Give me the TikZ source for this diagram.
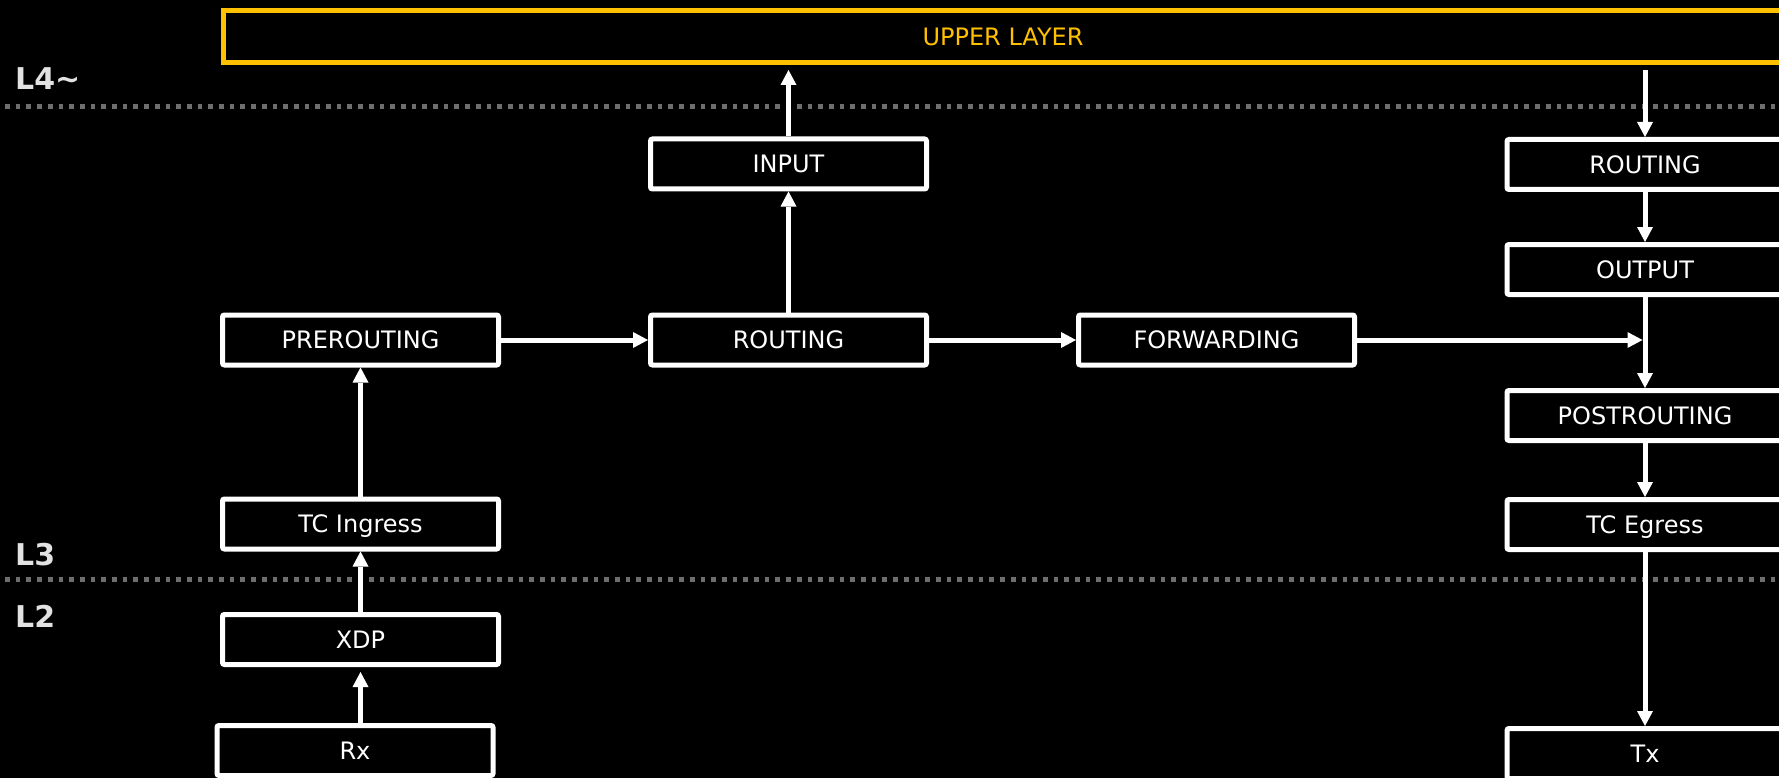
\documentclass[tikz,border=0pt]{standalone}
\usepackage{fontspec}
\setmainfont{DejaVu Sans}
\usetikzlibrary{arrows.meta}
\definecolor{gold}{HTML}{FFC000}
\definecolor{layertext}{HTML}{E2E2E2}
\definecolor{dashgray}{HTML}{6E6E6E}
\begin{document}
\begin{tikzpicture}[x=1pt,y=-1pt,
  stagebox/.style={draw=white, line width=5pt, rounded corners=2pt, fill=black,
    minimum width=276pt, minimum height=50pt, inner sep=0pt, outer sep=2.5pt,
    text=white, font=\fontsize{24pt}{28pt}\selectfont,
    text height=17.5pt, text depth=0pt},
  upperbox/.style={draw=gold, line width=5pt, fill=black,
    minimum width=1560pt, minimum height=52pt, inner sep=0pt, outer sep=2.5pt,
    text=gold, font=\fontsize{24pt}{28pt}\selectfont,
    text height=17.5pt, text depth=0pt},
  flow/.style={draw=white, line width=5pt,
    -{Triangle[length=15pt,width=16pt,line width=0pt]}},
  layerline/.style={draw=dashgray, line width=5pt, dash pattern=on 4.7pt off 6pt},
  layerlabel/.style={anchor=west, text=layertext, inner sep=0pt,
    font=\fontsize{30pt}{34pt}\selectfont\bfseries}
]
\fill[black] (0,0) rectangle (1779,778);
\useasboundingbox (0,0) rectangle (1779,778);
\clip (0,0) rectangle (1779,778);

% layer separators and their labels
\coordinate (sepA0) at (5,107);
\coordinate (sepA1) at (1785,107);
\coordinate (sepB0) at (5,579);
\coordinate (sepB1) at (1785,579);
\draw[layerline] (sepA0) -- (sepA1);
\draw[layerline] (sepB0) -- (sepB1);
\node[layerlabel] (l4) at (15,79) {L4\char"007E};
\node[layerlabel] (l3) at (15,555) {L3};
\node[layerlabel] (l2) at (15,616) {L2};

% upper layer
\node[upperbox] (upper) at (1003,36.5) {UPPER LAYER};

% receive path
\node[stagebox] (rx)  at (355,750.5) {Rx};
\node[stagebox] (xdp) at (360.5,639.5) {XDP};
\node[stagebox] (tcin) at (360.5,524) {TC Ingress};
\node[stagebox] (pre) at (360.5,340) {PREROUTING};
\node[stagebox] (rout) at (788.5,340) {ROUTING};
\node[stagebox] (inp) at (788.5,164) {INPUT};
\node[stagebox] (fwd) at (1216.5,340) {FORWARDING};

% transmit path
\node[stagebox] (rrout) at (1645,164.5) {ROUTING};
\node[stagebox] (outp)  at (1645,269.5) {OUTPUT};
\node[stagebox] (post)  at (1645,415.5) {POSTROUTING};
\node[stagebox] (tceg)  at (1645,524.5) {TC Egress};
\node[stagebox] (tx)    at (1645,753.5) {Tx};

% connectors
\draw[flow, shorten >=5pt] (xdp.south |- rx.north) -- (xdp.south);
\draw[flow] (xdp.north) -- (tcin.south);
\draw[flow] (tcin.north) -- (pre.south);
\draw[flow] (pre.east) -- (rout.west);
\draw[flow] (rout.north) -- (inp.south);
\draw[flow, shorten >=5pt] (inp.north) -- (inp.north |- upper.south);
\draw[flow] (rout.east) -- (fwd.west);
\draw[flow, shorten >=2.5pt] (fwd.east) -- (fwd.east -| outp.south);
\draw[flow, shorten <=5pt] (rrout.north |- upper.south) -- (rrout.north);
\draw[flow] (rrout.south) -- (outp.north);
\draw[flow] (outp.south) -- (post.north);
\draw[flow] (post.south) -- (tceg.north);
\draw[flow] (tceg.south) -- (tx.north);
\end{tikzpicture}
\end{document}
